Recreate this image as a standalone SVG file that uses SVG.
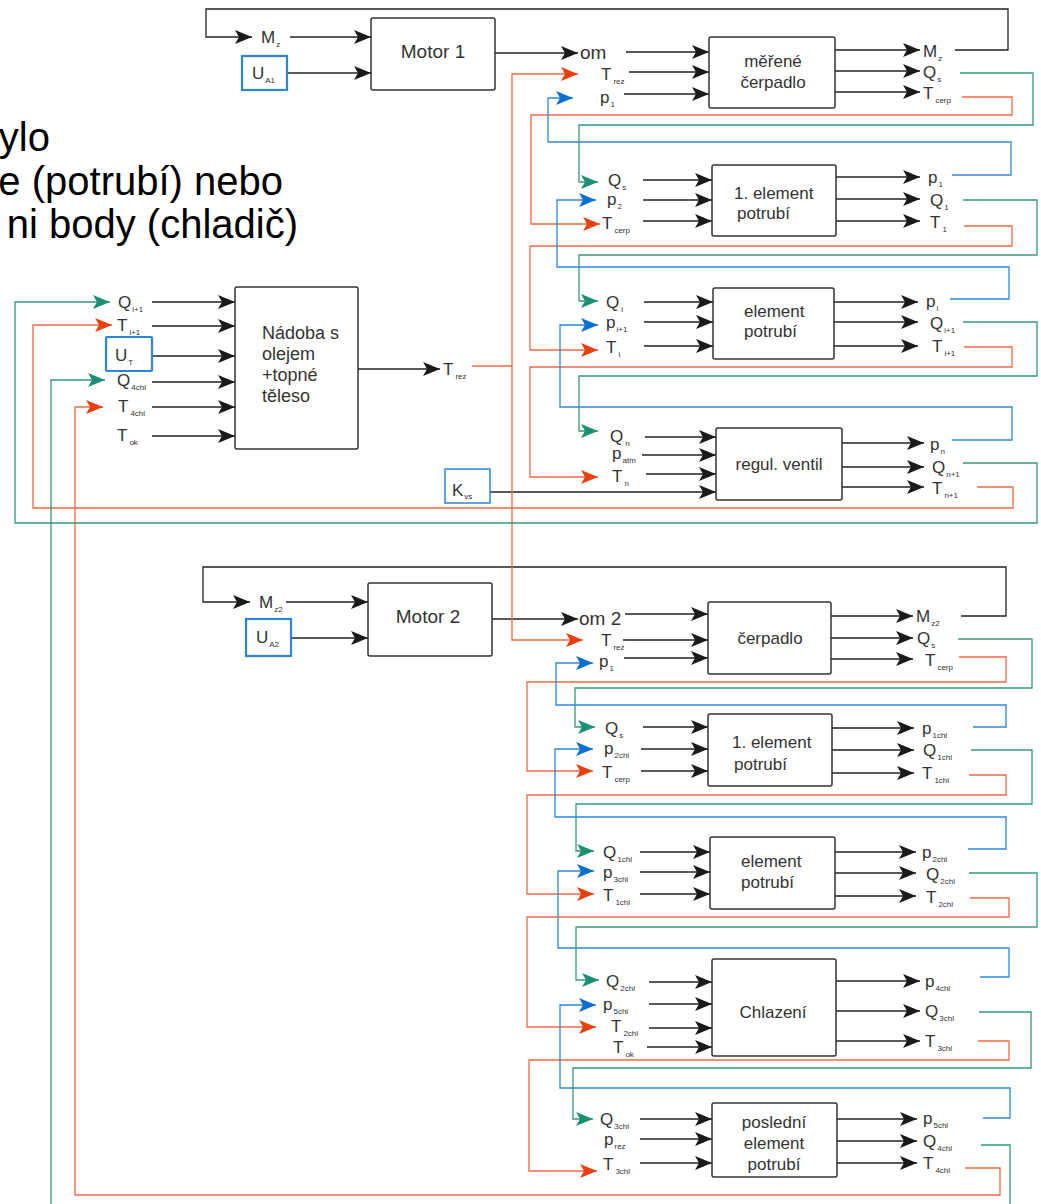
<svg xmlns="http://www.w3.org/2000/svg" width="1041" height="1204" viewBox="0 0 1041 1204">
<style>
text{font-family:"Liberation Sans",Arial,sans-serif;fill:#333}
.l{font-size:17px}
.m{font-size:19px;text-anchor:middle}
.c{text-anchor:middle}
.s{font-size:8px}
.om{font-size:19px}
.big{font-size:40px;fill:#000;text-anchor:end}
.bx{fill:#fff;stroke:#333;stroke-width:1.5}
.src{fill:#fff;stroke:#2a86d8;stroke-width:2.2}
.k{fill:none;stroke:#222;stroke-width:1.3;marker-end:url(#ak)}
.o{fill:none;stroke:#ef6a44;stroke-width:1.3;marker-end:url(#ao)}
.on{fill:none;stroke:#ef6a44;stroke-width:1.3}
.g{fill:none;stroke:#35997a;stroke-width:1.3;marker-end:url(#ag)}
.gn{fill:none;stroke:#35997a;stroke-width:1.3}
.b{fill:none;stroke:#2f88d6;stroke-width:1.3;marker-end:url(#ab)}
</style>
<defs>
<marker id="ak" markerUnits="userSpaceOnUse" viewBox="0 0 17 14" markerWidth="17" markerHeight="14" refX="17" refY="7" orient="auto"><path d="M0,0 L17,7 L0,14 L4,7 Z" fill="#1a1a1a"/></marker>
<marker id="ao" markerUnits="userSpaceOnUse" viewBox="0 0 17 14" markerWidth="17" markerHeight="14" refX="17" refY="7" orient="auto"><path d="M0,0 L17,7 L0,14 L4,7 Z" fill="#e8400e"/></marker>
<marker id="ag" markerUnits="userSpaceOnUse" viewBox="0 0 17 14" markerWidth="17" markerHeight="14" refX="17" refY="7" orient="auto"><path d="M0,0 L17,7 L0,14 L4,7 Z" fill="#1b9072"/></marker>
<marker id="ab" markerUnits="userSpaceOnUse" viewBox="0 0 17 14" markerWidth="17" markerHeight="14" refX="17" refY="7" orient="auto"><path d="M0,0 L17,7 L0,14 L4,7 Z" fill="#0b6fd2"/></marker>
</defs>
<rect width="1041" height="1204" fill="#fff"/>

<!-- caption text -->
<g id="caption">
<text class="big" x="50" y="151">ylo</text>
<text class="big" x="283" y="195">e (potrubí) nebo</text>
<text class="big" x="298" y="238">ni body (chladič)</text>
</g>

<!-- connectors -->
<g id="connectors">
<!-- black signal lines -->
<path class="k" d="M290,37 H371"/>
<path class="k" d="M287,73 H371"/>
<path class="k" d="M495,53 H578"/>
<path class="k" d="M955,50 H1008 V9 H206 V37 H252"/>
<path class="k" d="M626,52 H709"/>
<path class="k" d="M629,72 H709"/>
<path class="k" d="M624,94 H709"/>
<path class="k" d="M835,50 H920"/>
<path class="k" d="M835,71 H920"/>
<path class="k" d="M835,92 H920"/>

<path class="k" d="M643,180 H712"/>
<path class="k" d="M643,200 H712"/>
<path class="k" d="M643,221 H712"/>
<path class="k" d="M836,177 H920"/>
<path class="k" d="M836,199 H920"/>
<path class="k" d="M836,221 H920"/>

<path class="k" d="M644,302 H713"/>
<path class="k" d="M644,322 H713"/>
<path class="k" d="M644,346 H713"/>
<path class="k" d="M834,302 H918"/>
<path class="k" d="M834,322 H918"/>
<path class="k" d="M834,346 H918"/>

<path class="k" d="M645,437 H716"/>
<path class="k" d="M642,455 H716"/>
<path class="k" d="M646,474 H716"/>
<path class="k" d="M490,492 H716"/>
<path class="k" d="M842,443 H924"/>
<path class="k" d="M842,467 H924"/>
<path class="k" d="M842,487 H924"/>

<path class="k" d="M152,302 H235"/>
<path class="k" d="M152,326 H235"/>
<path class="k" d="M152,356 H235"/>
<path class="k" d="M152,382 H235"/>
<path class="k" d="M152,407 H235"/>
<path class="k" d="M152,436 H235"/>
<path class="k" d="M358,369 H440"/>

<path class="k" d="M286,602 H368"/>
<path class="k" d="M291,638 H368"/>
<path class="k" d="M492,619 H578"/>
<path class="k" d="M961,616 H1006 V567 H203 V602 H250"/>
<path class="k" d="M625,614 H708"/>
<path class="k" d="M623,640 H708"/>
<path class="k" d="M624,658 H708"/>
<path class="k" d="M831,616 H913"/>
<path class="k" d="M831,638 H913"/>
<path class="k" d="M831,659 H913"/>

<path class="k" d="M643,727 H708"/>
<path class="k" d="M641,749 H708"/>
<path class="k" d="M641,771 H708"/>
<path class="k" d="M832,728 H914"/>
<path class="k" d="M832,750 H914"/>
<path class="k" d="M832,773 H914"/>

<path class="k" d="M640,852 H710"/>
<path class="k" d="M640,872 H710"/>
<path class="k" d="M640,894 H710"/>
<path class="k" d="M835,852 H916"/>
<path class="k" d="M835,873 H916"/>
<path class="k" d="M835,896 H916"/>

<path class="k" d="M649,982 H712"/>
<path class="k" d="M649,1004 H712"/>
<path class="k" d="M649,1028 H712"/>
<path class="k" d="M647,1047 H712"/>
<path class="k" d="M836,981 H920"/>
<path class="k" d="M836,1011 H920"/>
<path class="k" d="M836,1041 H920"/>

<path class="k" d="M640,1119 H712"/>
<path class="k" d="M640,1139 H712"/>
<path class="k" d="M640,1163 H712"/>
<path class="k" d="M837,1119 H917"/>
<path class="k" d="M837,1141 H917"/>
<path class="k" d="M837,1163 H917"/>

<!-- temperature lines -->
<path class="on" d="M472,366 H512"/>
<path class="o" d="M512,366 V74 H578"/>
<path class="o" d="M512,366 V640 H583"/>
<path class="o" d="M962,97 H1012 V115 H531 V224 H600"/>
<path class="o" d="M964,226 H1012 V246 H530 V350 H598"/>
<path class="o" d="M964,347 H1012 V367 H530 V477 H598"/>
<path class="o" d="M977,487 H1013 V508 H33 V325 H112"/>
<path class="o" d="M959,657 H1006 V682 H527 V771 H593"/>
<path class="o" d="M969,775 H1006 V795 H527 V894 H594"/>
<path class="o" d="M970,898 H1009 V917 H527 V1027 H596"/>
<path class="o" d="M978,1041 H1009 V1060 H529 V1171 H597"/>
<path class="o" d="M965,1168 H1000 V1195 H75 V407 H103"/>

<!-- flow lines -->
<path class="g" d="M960,73 H1033 V125 H579 V182 H598"/>
<path class="g" d="M963,200 H1037 V255 H579 V301 H598"/>
<path class="g" d="M963,322 H1037 V376 H579 V431 H598"/>
<path class="g" d="M963,463 H1037 V523 H15 V302 H110"/>
<path class="g" d="M51,1204 V380 H105"/>
<path class="gn" d="M981,1145 H1010 V1204"/>
<path class="g" d="M958,639 H1032 V688 H575 V727 H595"/>
<path class="g" d="M971,750 H1032 V804 H576 V851 H594"/>
<path class="g" d="M969,873 H1037 V927 H576 V980 H599"/>
<path class="g" d="M979,1012 H1031 V1068 H573 V1119 H593"/>

<!-- pressure lines -->
<path class="b" d="M952,175 H1011 V142 H548 V98 H573"/>
<path class="b" d="M950,299 H1009 V267 H557 V200 H596"/>
<path class="b" d="M952,440 H1012 V407 H560 V325 H598"/>
<path class="b" d="M973,727 H1006 V705 H556 V663 H593"/>
<path class="b" d="M968,849 H1006 V817 H555 V749 H593"/>
<path class="b" d="M980,977 H1009 V948 H558 V871 H594"/>
<path class="b" d="M983,1118 H1010 V1088 H560 V1005 H596"/>
</g>

<!-- Motor 1 -->
<g id="motor1">
<rect class="bx" x="371" y="18" width="124" height="72" rx="2"/>
<text class="m" x="433" y="58">Motor 1</text>
<text class="l" x="261" y="43">M<tspan class="s" dx="1" dy="4">z</tspan></text>
<text class="om" x="580" y="59">om</text>
</g>
<g id="ua1">
<rect class="src" x="242" y="56" width="45" height="34"/>
<text class="l" x="252" y="79">U<tspan class="s" dx="1" dy="4">A1</tspan></text>
</g>

<!-- measured pump -->
<g id="merene-cerpadlo">
<rect class="bx" x="709" y="37" width="126" height="71" rx="2"/>
<text class="l c" x="773" y="67">měřené</text>
<text class="l c" x="773" y="88">čerpadlo</text>
<text class="l" x="601" y="80">T<tspan class="s" dx="2" dy="4">rez</tspan></text>
<text class="l" x="600" y="103">p<tspan class="s" dx="1" dy="4">1</tspan></text>
<text class="l" x="923" y="57">M<tspan class="s" dx="1" dy="4">z</tspan></text>
<text class="l" x="923" y="78">Q<tspan class="s" dx="1" dy="4">s</tspan></text>
<text class="l" x="923" y="99">T<tspan class="s" dx="2" dy="4">cerp</tspan></text>
</g>

<!-- first pipe element -->
<g id="element1">
<rect class="bx" x="712" y="165" width="124" height="71" rx="2"/>
<text class="l" x="734" y="199">1. element</text>
<text class="l" x="737" y="219">potrubí</text>
<text class="l" x="608" y="186">Q<tspan class="s" dx="1" dy="4">s</tspan></text>
<text class="l" x="607" y="205">p<tspan class="s" dx="1" dy="4">2</tspan></text>
<text class="l" x="602" y="229">T<tspan class="s" dx="2" dy="4">cerp</tspan></text>
<text class="l" x="928" y="183">p<tspan class="s" dx="1" dy="4">1</tspan></text>
<text class="l" x="930" y="206">Q<tspan class="s" dx="1" dy="4">1</tspan></text>
<text class="l" x="930" y="228">T<tspan class="s" dx="2" dy="4">1</tspan></text>
</g>

<!-- generic pipe element -->
<g id="element-i">
<rect class="bx" x="713" y="288" width="121" height="71" rx="2"/>
<text class="l" x="744" y="317">element</text>
<text class="l" x="744" y="337">potrubí</text>
<text class="l" x="606" y="308">Q<tspan class="s" dx="2" dy="4">i</tspan></text>
<text class="l" x="606" y="328">p<tspan class="s" dx="1" dy="4">i+1</tspan></text>
<text class="l" x="606" y="353">T<tspan class="s" dx="2" dy="4">i</tspan></text>
<text class="l" x="926" y="307">p<tspan class="s" dx="1" dy="4">i</tspan></text>
<text class="l" x="930" y="329">Q<tspan class="s" dx="1" dy="4">i+1</tspan></text>
<text class="l" x="932" y="352">T<tspan class="s" dx="2" dy="4">i+1</tspan></text>
</g>

<!-- control valve -->
<g id="regul-ventil">
<rect class="bx" x="716" y="428" width="126" height="72" rx="2"/>
<text class="l c" x="779" y="470">regul. ventil</text>
<text class="l" x="610" y="442">Q<tspan class="s" dx="2" dy="4">n</tspan></text>
<text class="l" x="612" y="459">p<tspan class="s" dx="1" dy="4">atm</tspan></text>
<text class="l" x="612" y="482">T<tspan class="s" dx="2" dy="4">n</tspan></text>
<text class="l" x="930" y="450">p<tspan class="s" dx="1" dy="4">n</tspan></text>
<text class="l" x="932" y="473">Q<tspan class="s" dx="1" dy="4">n+1</tspan></text>
<text class="l" x="932" y="494">T<tspan class="s" dx="2" dy="4">n+1</tspan></text>
</g>
<g id="kvs">
<rect class="src" x="445" y="469" width="45" height="34" style="stroke-width:1.5"/>
<text class="l" x="452" y="496">K<tspan class="s" dx="1" dy="3">vs</tspan></text>
</g>

<!-- oil tank with heater -->
<g id="nadoba">
<rect class="bx" x="235" y="287" width="123" height="162" rx="2"/>
<text class="l" x="262" y="339" style="font-size:18px">Nádoba s</text>
<text class="l" x="262" y="360" style="font-size:18px">olejem</text>
<text class="l" x="262" y="381" style="font-size:18px">+topné</text>
<text class="l" x="262" y="402" style="font-size:18px">těleso</text>
<text class="l" x="118" y="308">Q<tspan class="s" dx="1" dy="4">i+1</tspan></text>
<text class="l" x="117" y="331">T<tspan class="s" dx="2" dy="4">i+1</tspan></text>
<text class="l" x="117" y="386">Q<tspan class="s" dx="1" dy="4">4chl</tspan></text>
<text class="l" x="118" y="412">T<tspan class="s" dx="2" dy="4">4chl</tspan></text>
<text class="l" x="117" y="441">T<tspan class="s" dx="2" dy="4">ok</tspan></text>
<text class="l" x="443" y="375">T<tspan class="s" dx="2" dy="4">rez</tspan></text>
</g>
<g id="ut">
<rect class="src" x="106" y="337" width="46" height="34" rx="1"/>
<text class="l" x="115" y="361">U<tspan class="s" dx="1" dy="4">T</tspan></text>
</g>

<!-- Motor 2 -->
<g id="motor2">
<rect class="bx" x="368" y="583" width="124" height="73" rx="2"/>
<text class="m" x="428" y="623">Motor 2</text>
<text class="l" x="259" y="608">M<tspan class="s" dx="1" dy="4">z2</tspan></text>
<text class="om" x="579" y="625">om 2</text>
</g>
<g id="ua2">
<rect class="src" x="246" y="619" width="45" height="37"/>
<text class="l" x="256" y="643">U<tspan class="s" dx="1" dy="4">A2</tspan></text>
</g>

<!-- pump -->
<g id="cerpadlo">
<rect class="bx" x="708" y="602" width="123" height="72" rx="2"/>
<text class="l c" x="770" y="644">čerpadlo</text>
<text class="l" x="601" y="646">T<tspan class="s" dx="2" dy="4">rez</tspan></text>
<text class="l" x="599" y="667">p<tspan class="s" dx="1" dy="4">1</tspan></text>
<text class="l" x="916" y="622">M<tspan class="s" dx="1" dy="4">z2</tspan></text>
<text class="l" x="917" y="644">Q<tspan class="s" dx="1" dy="4">s</tspan></text>
<text class="l" x="925" y="666">T<tspan class="s" dx="2" dy="4">cerp</tspan></text>
</g>

<!-- first pipe element, circuit 2 -->
<g id="element1-chl">
<rect class="bx" x="708" y="714" width="124" height="72" rx="2"/>
<text class="l" x="732" y="748">1. element</text>
<text class="l" x="734" y="770">potrubí</text>
<text class="l" x="605" y="734">Q<tspan class="s" dx="1" dy="4">s</tspan></text>
<text class="l" x="604" y="754">p<tspan class="s" dx="1" dy="4">2chl</tspan></text>
<text class="l" x="602" y="778">T<tspan class="s" dx="2" dy="4">cerp</tspan></text>
<text class="l" x="922" y="734">p<tspan class="s" dx="1" dy="4">1chl</tspan></text>
<text class="l" x="923" y="756">Q<tspan class="s" dx="1" dy="4">1chl</tspan></text>
<text class="l" x="922" y="779">T<tspan class="s" dx="2" dy="4">1chl</tspan></text>
</g>

<!-- pipe element, circuit 2 -->
<g id="element2-chl">
<rect class="bx" x="710" y="837" width="125" height="72" rx="2"/>
<text class="l" x="741" y="867">element</text>
<text class="l" x="741" y="888">potrubí</text>
<text class="l" x="603" y="858">Q<tspan class="s" dx="1" dy="4">1chl</tspan></text>
<text class="l" x="603" y="878">p<tspan class="s" dx="1" dy="4">3chl</tspan></text>
<text class="l" x="603" y="901">T<tspan class="s" dx="2" dy="4">1chl</tspan></text>
<text class="l" x="922" y="858">p<tspan class="s" dx="1" dy="4">2chl</tspan></text>
<text class="l" x="926" y="880">Q<tspan class="s" dx="1" dy="4">2chl</tspan></text>
<text class="l" x="926" y="903">T<tspan class="s" dx="2" dy="4">2chl</tspan></text>
</g>

<!-- cooler -->
<g id="chlazeni">
<rect class="bx" x="712" y="959" width="124" height="97" rx="2"/>
<text class="l c" x="773" y="1018">Chlazení</text>
<text class="l" x="606" y="987">Q<tspan class="s" dx="1" dy="4">2chl</tspan></text>
<text class="l" x="603" y="1010">p<tspan class="s" dx="1" dy="4">5chl</tspan></text>
<text class="l" x="611" y="1032">T<tspan class="s" dx="2" dy="4">2chl</tspan></text>
<text class="l" x="613" y="1053">T<tspan class="s" dx="2" dy="4">ok</tspan></text>
<text class="l" x="925" y="987">p<tspan class="s" dx="1" dy="4">4chl</tspan></text>
<text class="l" x="925" y="1017">Q<tspan class="s" dx="1" dy="4">3chl</tspan></text>
<text class="l" x="925" y="1047">T<tspan class="s" dx="2" dy="4">3chl</tspan></text>
</g>

<!-- last pipe element -->
<g id="posledni-element">
<rect class="bx" x="712" y="1103" width="125" height="74" rx="2"/>
<text class="l c" x="774" y="1128">poslední</text>
<text class="l c" x="774" y="1149">element</text>
<text class="l c" x="774" y="1170">potrubí</text>
<text class="l" x="600" y="1125">Q<tspan class="s" dx="1" dy="4">3chl</tspan></text>
<text class="l" x="604" y="1145">p<tspan class="s" dx="1" dy="4">rez</tspan></text>
<text class="l" x="603" y="1170">T<tspan class="s" dx="2" dy="4">3chl</tspan></text>
<text class="l" x="923" y="1124">p<tspan class="s" dx="1" dy="4">5chl</tspan></text>
<text class="l" x="923" y="1147">Q<tspan class="s" dx="1" dy="4">4chl</tspan></text>
<text class="l" x="923" y="1169">T<tspan class="s" dx="2" dy="4">4chl</tspan></text>
</g>
</svg>
